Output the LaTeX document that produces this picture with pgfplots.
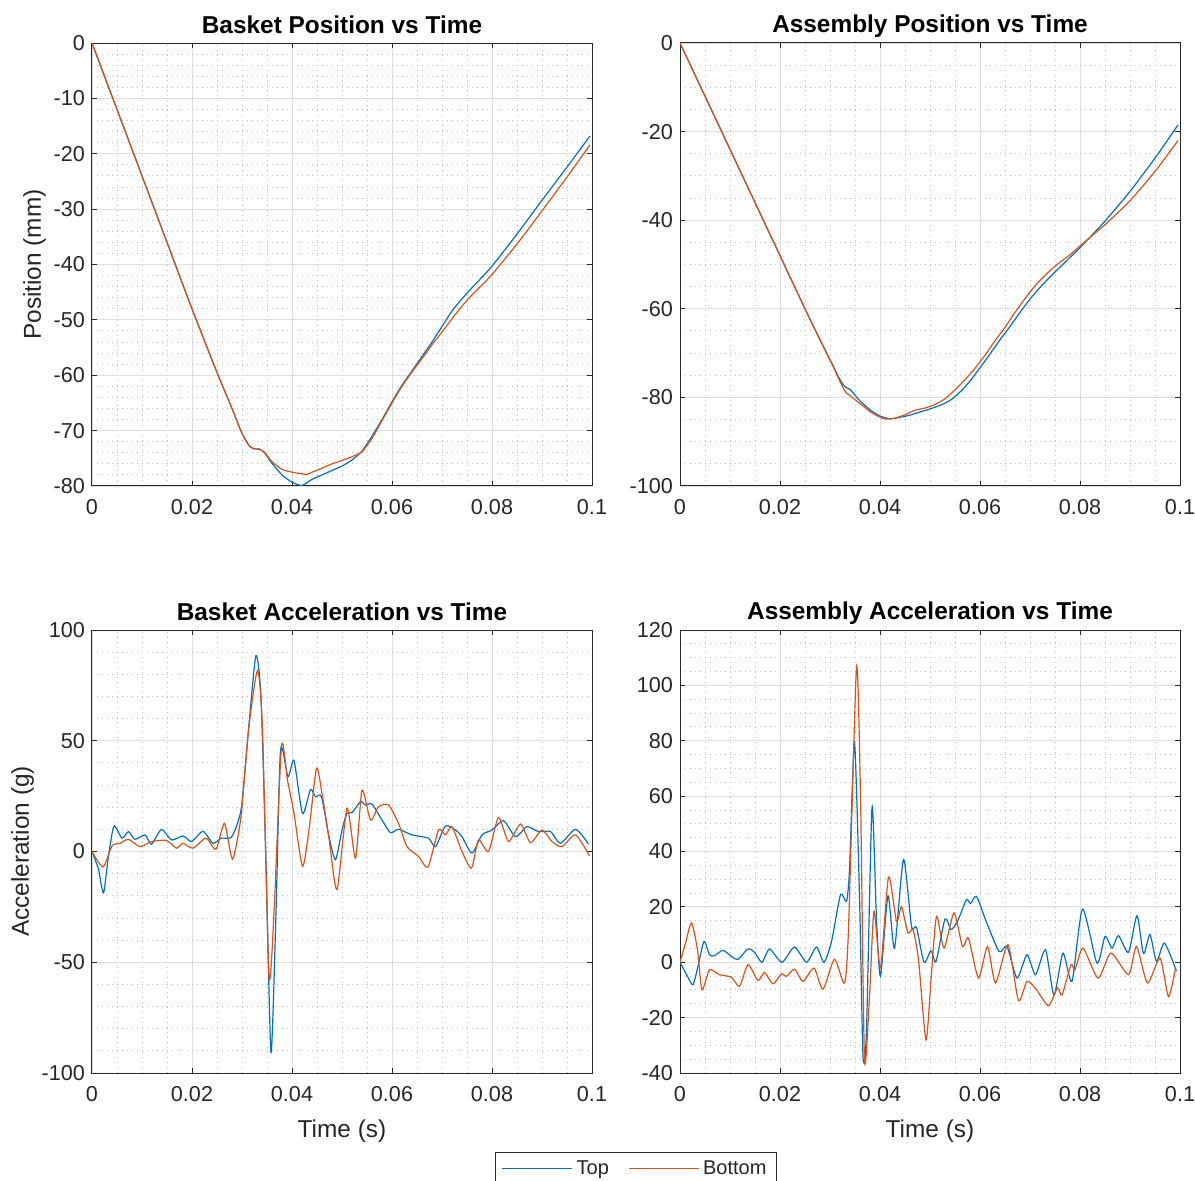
\documentclass[border=0pt]{standalone}
\usepackage{fontspec}
\setmainfont{Liberation Sans}
\usepackage{pgfplots}
\pgfplotsset{compat=1.18}
\definecolor{mblue}{RGB}{0,114,189}
\definecolor{morange}{RGB}{217,83,25}
\definecolor{axgray}{RGB}{38,38,38}
\definecolor{gridmaj}{RGB}{222,222,222}
\definecolor{gridmin}{RGB}{190,190,190}
\pgfplotsset{
  mstyle/.style={
    scale only axis, width=250pt, height=221.5pt,
    xmin=0, xmax=0.1,
    xtick={0,0.02,0.04,0.06,0.08,0.1},
    minor x tick num=3,
    scaled x ticks=false, scaled y ticks=false,
    grid=both,
    major grid style={color=gridmaj, line width=0.4pt},
    minor grid style={color=gridmin, line width=0.45pt, dash pattern=on 0.5pt off 2pt},
    axis line style={color=axgray, line width=0.5pt},
    tick style={color=axgray, line width=0.5pt},
    major tick length=2.7pt, minor tick length=0pt,
    tick align=inside,
    /pgf/number format/assume math mode=true,
    ticklabel style={font=\fontsize{10.8}{13}\selectfont, text=axgray},
    xticklabel style={/pgf/number format/fixed, /pgf/number format/precision=2, yshift=-3pt},
    title style={font=\bfseries\fontsize{12.2}{14}\selectfont, at={(0.5,1)}, anchor=base, yshift=-1pt},
    label style={font=\fontsize{12.2}{14}\selectfont, text=axgray},
    xlabel style={yshift=-2.5pt},
    ylabel style={yshift=-3pt},
  },
  tl/.style={mblue, line width=0.6pt, smooth, tension=0.4},
  bl/.style={morange, line width=0.6pt, smooth, tension=0.4},
}
\begin{document}
\begin{tikzpicture}
\path[use as bounding box] (0pt,0pt) rectangle (597.5pt,590pt);

% Top-left: Basket Position
\begin{axis}[mstyle, at={(46pt,347pt)}, anchor=south west,
  ymin=-80, ymax=0, ytick={-80,-70,-60,-50,-40,-30,-20,-10,0}, minor y tick num=4,
  title={Basket Position vs Time}, ylabel={Position (mm)}]
\addplot[tl] coordinates {
(0,0) (0.005,-12) (0.01,-24) (0.015,-36) (0.02,-48) (0.025,-59.5) (0.028,-66) (0.030,-70.5)
(0.0315,-72.8) (0.0325,-73.3) (0.0335,-73.3) (0.0345,-74.0) (0.036,-75.9) (0.038,-78.0)
(0.040,-79.3) (0.042,-79.9) (0.044,-78.8) (0.046,-78.0) (0.048,-77.2) (0.050,-76.4)
(0.052,-75.3) (0.054,-73.7) (0.056,-71) (0.058,-68) (0.060,-64.8) (0.062,-61.8) (0.064,-59.2)
(0.066,-56.6) (0.068,-54) (0.070,-51.2) (0.072,-48.4) (0.074,-46.2) (0.076,-44.2) (0.078,-42.3)
(0.080,-40.3) (0.085,-34.5) (0.090,-28.4) (0.095,-22.4) (0.0996,-16.8)};
\addplot[bl] coordinates {
(0,0) (0.005,-12) (0.01,-24) (0.015,-36) (0.02,-48) (0.025,-59.5) (0.028,-66) (0.030,-70.5)
(0.0315,-72.8) (0.0325,-73.3) (0.0335,-73.4) (0.0345,-73.9) (0.036,-75.6) (0.038,-77.0)
(0.040,-77.5) (0.042,-77.8) (0.043,-77.9) (0.044,-77.5) (0.046,-76.8) (0.048,-76.0)
(0.050,-75.4) (0.052,-74.7) (0.054,-73.8) (0.056,-71.4) (0.058,-68.2) (0.060,-65) (0.062,-62)
(0.064,-59.4) (0.066,-57) (0.068,-54.5) (0.070,-52.2) (0.072,-49.8) (0.074,-47.5) (0.076,-45.5)
(0.078,-43.7) (0.080,-41.8) (0.085,-36.3) (0.090,-30.3) (0.095,-24.2) (0.0996,-18.4)};
\end{axis}

% Top-right: Assembly Position
\begin{axis}[mstyle, at={(340pt,347pt)}, anchor=south west,
  ymin=-100, ymax=0, ytick={-100,-80,-60,-40,-20,0}, minor y tick num=3,
  title={Assembly Position vs Time}]
\addplot[tl] coordinates {
(0,0) (0.005,-12) (0.01,-24) (0.015,-36) (0.02,-48) (0.025,-60) (0.028,-67) (0.030,-71.5)
(0.032,-76) (0.033,-77.6) (0.034,-78.2) (0.035,-79.5) (0.036,-80.8) (0.038,-82.8) (0.040,-84.2)
(0.042,-84.8) (0.044,-84.5) (0.046,-84) (0.048,-83.3) (0.050,-82.6) (0.052,-81.8) (0.054,-80.7)
(0.056,-78.8) (0.058,-76.3) (0.060,-73.3) (0.062,-70.2) (0.064,-67.0) (0.066,-64) (0.068,-60.8)
(0.070,-57.8) (0.072,-55.2) (0.074,-52.8) (0.076,-50.6) (0.078,-48.4) (0.080,-46.2)
(0.085,-40.2) (0.090,-33.5) (0.095,-26) (0.0996,-18.5)};
\addplot[bl] coordinates {
(0,0) (0.005,-12) (0.01,-24) (0.015,-36) (0.02,-48) (0.025,-60) (0.028,-67) (0.030,-71.5)
(0.032,-76.4) (0.033,-78.6) (0.034,-79.6) (0.036,-81.4) (0.038,-83.2) (0.040,-84.5) (0.0413,-84.9)
(0.043,-84.7) (0.045,-83.9) (0.047,-82.9) (0.049,-82.4) (0.051,-81.6) (0.053,-80.3) (0.055,-78.3)
(0.057,-76.0) (0.059,-73.4) (0.061,-70.5) (0.063,-67.2) (0.065,-64.2) (0.067,-60.8) (0.070,-56.2)
(0.072,-53.6) (0.074,-51.4) (0.076,-49.5) (0.078,-47.8) (0.080,-45.8) (0.085,-41) (0.090,-35.6)
(0.095,-29) (0.0996,-22)};
\end{axis}

% Bottom-left: Basket Acceleration
\begin{axis}[mstyle, at={(46pt,53.5pt)}, anchor=south west,
  ymin=-100, ymax=100, ytick={-100,-50,0,50,100}, minor y tick num=4,
  title={Basket Acceleration vs Time}, ylabel={Acceleration (g)}, xlabel={Time (s)},
  legend style={at={(1.088,-0.1783)}, anchor=north, draw=axgray, line width=0.4pt,
    font=\fontsize{10}{12}\selectfont, text=axgray, inner xsep=3pt, inner ysep=2pt,
    /tikz/every even column/.append style={column sep=7.5pt}},
  legend columns=2,
  legend image code/.code={\draw[#1] (0pt,0pt) -- (35pt,0pt);}]
\addplot[tl] coordinates {
(0,0) (0.0013,-8) (0.0023,-18.7) (0.0033,-2) (0.0044,11.5) (0.006,6) (0.0073,9) (0.0086,5.5)
(0.0106,7.5) (0.0119,3.3) (0.0139,10) (0.0159,5.2) (0.0182,7) (0.0199,4.5) (0.0222,9.1)
(0.0242,3.7) (0.0258,6) (0.0278,6.3) (0.0291,12.7) (0.0300,22) (0.0315,60) (0.0328,88.5)
(0.0338,69.7) (0.0348,-5.2) (0.0358,-90.7) (0.0368,-27.7) (0.0377,45.7) (0.0392,33.7)
(0.0404,41) (0.0421,17.2) (0.0437,28) (0.0447,24.7) (0.0459,24.7) (0.0474,6.7) (0.0487,-3.7)
(0.0500,9.7) (0.051,17.2) (0.052,17.5) (0.0537,22.5) (0.0547,21) (0.056,21.4) (0.058,14.2)
(0.0597,8.5) (0.0613,10) (0.064,7.5) (0.0673,6) (0.0687,2.2) (0.0707,11.5) (0.0727,9.7)
(0.074,6.7) (0.076,-0.7) (0.078,7.5) (0.08,9.7) (0.0823,13.9) (0.0847,6.7) (0.087,11.2)
(0.0893,9) (0.0917,9) (0.0937,3.7) (0.0967,10) (0.0993,3.4)};
\addplot[bl] coordinates {
(0,0) (0.0022,-7) (0.004,2.5) (0.0056,3.7) (0.0073,5.5) (0.0096,2.2) (0.0119,4.5) (0.0149,5)
(0.0169,1.5) (0.0182,3.7) (0.0202,1.5) (0.0228,6) (0.0248,1) (0.0265,12.7) (0.0281,-3.4)
(0.0298,15.7) (0.0313,54.7) (0.0331,81.7) (0.0341,54.7) (0.0354,-56.2) (0.0364,-27.7)
(0.0379,47.5) (0.0391,32.2) (0.0404,17.2) (0.0421,-6.7) (0.0434,9.7) (0.0449,37.5) (0.046,26.2)
(0.0474,6) (0.049,-17.2) (0.051,19.5) (0.0527,-3) (0.054,27.7) (0.0557,14.2) (0.0573,20.2)
(0.0593,21) (0.0613,12.7) (0.063,2.2) (0.0653,-2.2) (0.0672,-7) (0.0693,9.7) (0.0707,7.5)
(0.072,11.2) (0.074,0) (0.0759,-7.5) (0.0773,5.2) (0.0793,0) (0.0813,15.4) (0.0833,4.5)
(0.0857,12.4) (0.0877,4) (0.09,9.7) (0.092,4.5) (0.094,2.2) (0.0967,7.5) (0.0995,-2)};
\legend{Top,Bottom}
\end{axis}

% Bottom-right: Assembly Acceleration
\begin{axis}[mstyle, at={(340pt,53.5pt)}, anchor=south west,
  ymin=-40, ymax=120, ytick={-40,-20,0,20,40,60,80,100,120}, minor y tick num=3,
  title={Assembly Acceleration vs Time}, xlabel={Time (s)}]
\addplot[tl] coordinates {
(0,0) (0.0015,-5.1) (0.0026,-8.1) (0.0036,-1.5) (0.0048,7.5) (0.0059,2.7) (0.0069,2.4)
(0.0086,4.3) (0.0103,2.1) (0.0116,1.1) (0.0136,4.8) (0.0149,3.6) (0.0164,0) (0.0179,4.8)
(0.0204,0) (0.0229,5.5) (0.0253,0) (0.0273,5.5) (0.0288,0) (0.0303,7.5) (0.0321,24.4)
(0.0333,22) (0.0339,33.5) (0.0349,79.3) (0.0359,23.8) (0.0366,-34) (0.0373,-24.4) (0.0384,55.8)
(0.0393,15.4) (0.0401,-5.1) (0.0416,24) (0.0429,5.1) (0.0447,37.1) (0.0463,13) (0.0473,12.6)
(0.0488,0) (0.0502,4.2) (0.0512,0.3) (0.053,15.6) (0.0542,11.8) (0.0555,14.8) (0.0573,22.6)
(0.0581,21.2) (0.0593,23.8) (0.0611,15.4) (0.0638,3.9) (0.0654,5.7) (0.0674,-5.7) (0.0694,2.7)
(0.0711,-4.5) (0.0731,4.5) (0.0748,-11.8) (0.0766,3.3) (0.0784,-6.9) (0.0805,19.2) (0.0834,-0.3)
(0.085,9.3) (0.0864,5.1) (0.0877,9.6) (0.0897,3.6) (0.0914,16.8) (0.0927,3.1) (0.094,10)
(0.0953,0.3) (0.0969,6.9) (0.0993,-3.3)};
\addplot[bl] coordinates {
(0,0) (0.0011,6.9) (0.0023,14.2) (0.0035,4.5) (0.0044,-10) (0.0059,-2.7) (0.0079,-4.5)
(0.0103,-5.4) (0.0119,-8.7) (0.0136,-0.9) (0.0156,-6.6) (0.0169,-3.7) (0.0186,-7.8)
(0.0203,-4.2) (0.0213,-5.1) (0.0229,-2.5) (0.0246,-6.9) (0.0268,-2.1) (0.0286,-9.7) (0.0309,1.1)
(0.0329,-7.5) (0.0337,12) (0.0353,106.5) (0.0361,60) (0.0369,-35.3) (0.0379,-12.4) (0.0388,18.4)
(0.0401,-2.1) (0.0417,30.8) (0.0433,14.8) (0.0443,20) (0.0456,10.6) (0.0466,11.8) (0.0477,0.9)
(0.0492,-28.1) (0.0502,-6.3) (0.0513,16.6) (0.0528,5.1) (0.0548,17.8) (0.0565,5.7) (0.0577,8.7)
(0.0597,-5.7) (0.0615,5.7) (0.0631,-7.5) (0.0656,6.3) (0.0677,-13.8) (0.0694,-6.9) (0.0713,-9.9)
(0.0737,-15.7) (0.0755,-9.3) (0.0764,-11.8) (0.0782,-0.9) (0.079,-2.7) (0.0806,5.1) (0.0836,-5.7)
(0.0862,3.3) (0.0897,-4.5) (0.0913,5.7) (0.0935,-7.5) (0.096,1.5) (0.0977,-12.4) (0.0991,-2.1)};
\end{axis}
\end{tikzpicture}
\end{document}
